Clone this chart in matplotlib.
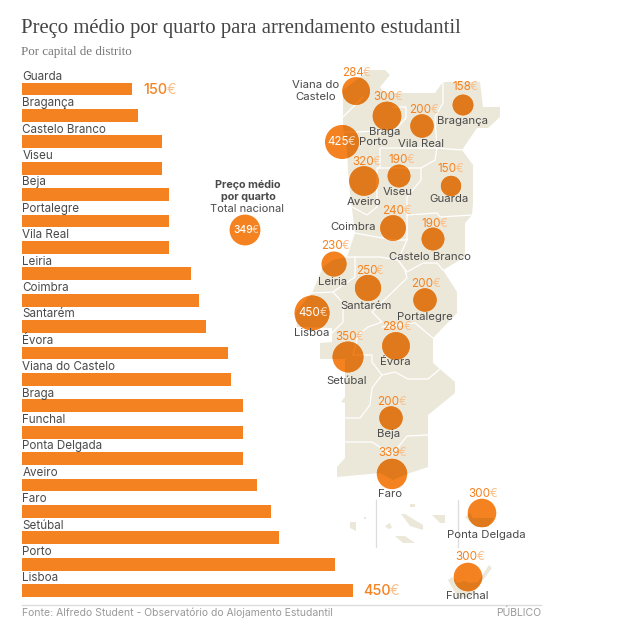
import numpy as np
import matplotlib
matplotlib.use('Agg')
import matplotlib.pyplot as plt
from matplotlib.patches import Circle, Polygon

plt.rcParams['font.family'] = ['Inter', 'DejaVu Sans']

# bar data
cities = ['Guarda', 'Bragança', 'Castelo Branco', 'Viseu', 'Beja', 'Portalegre', 'Vila Real',
          'Leiria', 'Coimbra', 'Santarém', 'Évora', 'Viana do Castelo', 'Braga', 'Funchal',
          'Ponta Delgada', 'Aveiro', 'Faro', 'Setúbal', 'Porto', 'Lisboa']
prices = [150, 158, 190, 190, 200, 200, 200, 230, 240, 250, 280, 284, 300, 300, 300, 320, 339, 350, 425, 450]
national = 349

# map bubbles, in pixels: city, bubble x, y, value label x, y, name x, y
bubble_pos = {
    'Viana do Castelo': (356, 91, 356, 73, 316, 91),
    'Braga': (387, 116, 387, 97, 385, 132),
    'Porto': (342, 142, 341, 142, 373, 142),
    'Vila Real': (422, 126, 423, 110, 421, 144),
    'Bragança': (463, 105, 464, 87, 462, 121),
    'Aveiro': (364, 181, 366, 162, 364, 202),
    'Viseu': (399, 176, 401, 160, 398, 192),
    'Guarda': (451, 186, 450, 169, 449, 199),
    'Coimbra': (393, 228, 396, 211, 353, 227),
    'Castelo Branco': (433, 239, 434, 224, 430, 257),
    'Leiria': (334, 264, 335, 246, 333, 282),
    'Santarém': (368, 288, 369, 271, 366, 306),
    'Portalegre': (425, 300, 425, 284, 425, 317),
    'Lisboa': (312, 313, 312, 313, 312, 333),
    'Setúbal': (348, 357, 349, 337, 347, 381),
    'Évora': (396, 346, 396, 327, 395, 362),
    'Beja': (391, 418, 391, 402, 389, 434),
    'Faro': (392, 474, 392, 453, 390, 494),
    'Ponta Delgada': (482, 513, 482, 494, 486, 535),
    'Funchal': (468, 577, 469, 557, 467, 596),
}

mainland = [(370, 70), (385, 70), (390, 75), (380, 87), (385, 93), (435, 93), (443, 82), (480, 82),
            (483, 107), (500, 107), (500, 117), (488, 128), (477, 128), (462, 150), (473, 165),
            (473, 203), (472, 215), (465, 223), (465, 257), (443, 270), (457, 292), (457, 313),
            (433, 338), (433, 363), (455, 382), (455, 393), (428, 415), (428, 467), (407, 474),
            (393, 480), (380, 473), (337, 477), (337, 467), (345, 458), (345, 403), (341, 402),
            (345, 397), (345, 359), (320, 359), (320, 343), (332, 342), (332, 328), (297, 327),
            (295, 313), (312, 293), (323, 267), (333, 260), (347, 257), (355, 233), (350, 193),
            (348, 170), (347, 150), (343, 127), (343, 90)]
islands = [[(350, 522), (356, 522), (356, 531), (350, 528)],
           [(364, 517), (366, 517), (366, 519), (364, 519)],
           [(385, 526), (390, 523), (392, 528), (388, 529)],
           [(401, 514), (405, 514), (423, 525), (423, 530), (410, 526)],
           [(410, 504), (415, 504), (415, 507), (410, 507)],
           [(432, 515), (445, 515), (445, 523), (440, 523)],
           [(395, 536), (405, 536), (415, 543), (403, 543)],
           [(465, 517), (470, 513), (473, 518), (494, 518), (488, 527), (475, 527)],
           [(448, 580), (452, 577), (458, 583), (464, 581), (470, 583), (478, 582), (489, 565), (492, 568),
            (480, 584), (470, 597), (458, 598)]]
borders = [[(343, 117), (363, 97)],
           [(343, 132), (357, 132), (395, 130), (406, 118), (406, 107), (393, 107)],
           [(443, 82), (443, 103), (435, 117), (437, 148)],
           [(462, 150), (437, 148), (380, 148), (380, 167), (377, 169), (377, 207), (367, 215), (352, 207)],
           [(377, 168), (390, 168), (421, 168), (435, 160), (437, 148)],
           [(421, 168), (421, 180), (407, 197), (407, 215), (407, 240), (393, 240), (355, 233)],
           [(407, 215), (437, 213), (440, 217), (472, 215)],
           [(407, 240), (398, 260), (407, 272), (423, 263), (437, 263), (443, 270)],
           [(345, 257), (380, 257), (398, 260)],
           [(355, 257), (355, 277), (333, 292), (312, 293)],
           [(333, 292), (343, 303), (343, 322), (332, 333)],
           [(398, 260), (405, 270), (407, 278), (372, 312), (382, 322), (368, 327), (358, 335), (353, 355),
            (372, 355), (372, 362), (382, 375), (372, 388), (370, 405), (360, 418), (345, 418)],
           [(382, 327), (415, 323), (433, 338)],
           [(382, 375), (395, 372), (408, 379), (428, 379), (440, 369)],
           [(345, 442), (372, 442), (392, 455), (407, 436), (428, 435)]]
dividers = [(376, 500, 547), (458, 500, 547)]

ORANGE = '#f58220'
ORANGE_DARK = '#e0791c'
EURO = '#fac08c'
TXT = '#4a4a4a'
SAND = '#ebe8da'

fig = plt.figure(figsize=(6.37, 6.35), dpi=100)

# full figure axes in pixels for map and texts
bg = fig.add_axes([0, 0, 1, 1])
bg.set_xlim(0, 637)
bg.set_ylim(635, 0)
bg.axis('off')


def price_text(x, y, value, size, color=ORANGE, euro=EURO, weight='normal'):
    t = bg.text(x - size * 0.3, y, str(value), fontsize=size, color=color, ha='center', va='center',
                fontweight=weight, zorder=8)
    bg.annotate('€', xy=(1, 0), xycoords=t, xytext=(-size * 0.1, 0), textcoords='offset points', fontsize=size,
                color=euro, ha='left', va='bottom', zorder=8)


def draw_land(zorder, fc=SAND, lc='white', clip=None):
    shapes = [Polygon(mainland, closed=True, fc=fc, ec='none', zorder=zorder)]
    shapes += [Polygon(p, closed=True, fc=fc, ec='none', zorder=zorder) for p in islands]
    for s in shapes:
        bg.add_patch(s)
        if clip is not None:
            s.set_clip_path(clip)
    for b in borders:
        xs, ys = zip(*b)
        ln, = bg.plot(xs, ys, color=lc, lw=0.9, zorder=zorder + 0.1, solid_joinstyle='miter')
        if clip is not None:
            ln.set_clip_path(clip)


draw_land(1)
for x, y0, y1 in dividers:
    bg.plot([x, x], [y0, y1], color='#dddddd', lw=0.9, zorder=1)

# bubbles, area follows the price
for city, price in zip(cities, prices):
    bx, by, vx, vy, nx, ny = bubble_pos[city]
    r = 0.825 * np.sqrt(price)
    c = Circle((bx, by), r, fc=ORANGE, ec='none', zorder=3)
    bg.add_patch(c)
    draw_land(4, fc=ORANGE_DARK, lc=ORANGE, clip=c)
    if city in ('Porto', 'Lisboa'):
        price_text(vx, vy, price, 8.4, color='white', euro='#fbd3ae')
    else:
        price_text(vx, vy, price, 8.4)
    label = 'Viana do\nCastelo' if city == 'Viana do Castelo' else city
    bg.text(nx, ny, label, fontsize=8.2, color=TXT, ha='center', va='center', linespacing=1.25, zorder=8)

# national average
c = Circle((245, 230), 0.825 * np.sqrt(national), fc=ORANGE, ec='none', zorder=3)
bg.add_patch(c)
price_text(245, 230, national, 7.4, color='white', euro='#fbd3ae', weight='medium')
bg.text(248, 191, 'Preço médio\npor quarto', fontsize=7.8, fontweight='bold', color=TXT, ha='center', va='center',
        linespacing=1.15)
bg.text(247, 209, 'Total nacional', fontsize=8, color=TXT, ha='center', va='center')

# titles and footer
bg.text(21, 28, 'Preço médio por quarto para arrendamento estudantil', fontsize=14.95, color='#444444',
        family='Liberation Serif', va='center')
bg.text(21, 52, 'Por capital de distrito', fontsize=9.4, color='#777777', family='Liberation Serif', va='center')
bg.plot([22, 541], [605, 605], color='#dddddd', lw=1)
bg.text(22, 613, 'Fonte: Alfredo Student - Observatório do Alojamento Estudantil', fontsize=7.5, color='#999999',
        va='center')
bg.text(541, 613, 'PÚBLICO', fontsize=7.5, color='#999999', ha='right', va='center')

# bar axes, 0-450 spans x=22..353 px and rows are 26.4 px apart
ax = fig.add_axes([22 / 637, 1 - 603.8 / 635, 331 / 637, (603.8 - 75.8) / 635])
ax.patch.set_alpha(0)
ypos = np.arange(len(cities))
ax.barh(ypos, prices, height=0.49, color=ORANGE)
ax.set_xlim(0, 450)
ax.set_ylim(19.5, -0.5)
ax.axis('off')
for i, city in enumerate(cities):
    ax.text(0.5, i - 0.46, city, fontsize=8.4, color=TXT, ha='left', va='center')

price_text(159, 90, prices[0], 10.4, weight='medium')
price_text(380, 591, prices[-1], 10.4, weight='medium')

fig.savefig('out.png', dpi=100)
